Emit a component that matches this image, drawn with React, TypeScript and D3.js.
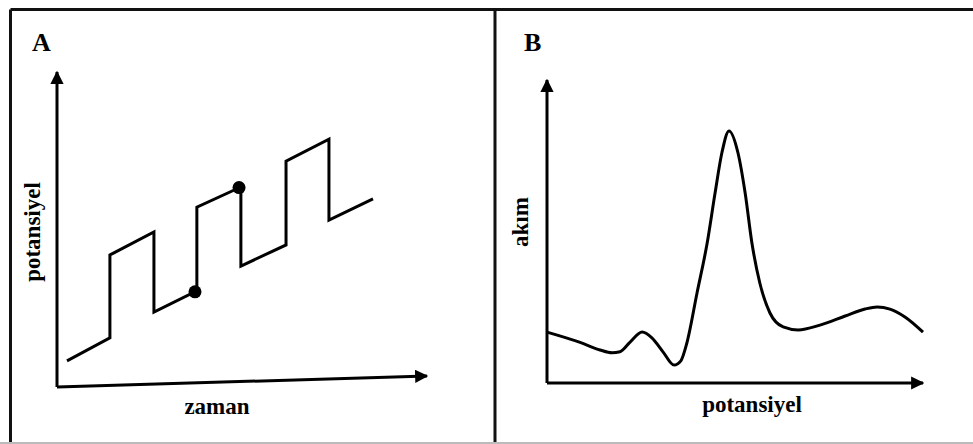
import React from "react";
import * as d3 from "d3";

// Panel A: staircase potential vs time (vertices, arbitrary units 0-100)
const stairTime = [2.7, 14.3, 14.3, 26.2, 26.2, 37.8, 37.8, 49.7, 49.7, 61.9, 61.9, 73.5, 73.5, 85.4];
const stairPotential = [8.3, 15.6, 41.9, 49.2, 23.8, 30.5, 57.1, 63.5, 38.4, 45.1, 71.7, 78.7, 53.0, 59.7];
// sampling points marked with dots
const sampleTime = [37.3, 49.2];
const samplePotential = [30.2, 63.3];

// Panel B: current vs potential (arbitrary units 0-100)
const scanPotential = [0, 8.8, 14.1, 17.3, 19.4, 22.1, 25.3, 27.9, 30.9, 33.8, 35.6, 37.2, 39.9, 42.6, 44.7, 46.5, 48.4, 50.8, 52.7, 54.5, 56.6, 59.3, 62.8, 66.8, 72.6, 79.3, 84.6, 87.8, 91.2, 95.2, 100];
const scanCurrent = [16.8, 13.4, 10.9, 10.0, 10.3, 13.5, 16.8, 14.9, 10.2, 5.9, 7.3, 13.2, 29.7, 46.2, 62.7, 75.9, 83.2, 75.9, 62.7, 46.2, 33.0, 23.1, 18.5, 17.5, 19.1, 22.1, 24.4, 25.1, 24.4, 21.8, 16.8];

const panelLabels = ["A", "B"];
const xTitles = ["zaman", "potansiyel"];
const yTitles = ["potansiyel", "akım"];

const font = "'Liberation Serif', 'Times New Roman', serif";

export default function App() {
  const width = 973;
  const height = 444;

  // panel A scales
  const xA = d3.scaleLinear().domain([0, 100]).range([57, 427]);
  const yA = d3.scaleLinear().domain([0, 100]).range([387, 72]);
  // panel B scales
  const xB = d3.scaleLinear().domain([0, 100]).range([547, 923]);
  const yB = d3.scaleLinear().domain([0, 100]).range([383, 80]);

  const stairs = d3.line<number>()
    .x((d, i) => xA(stairTime[i]))
    .y((d) => yA(d));

  const scan = d3.line<number>()
    .x((d, i) => xB(scanPotential[i]))
    .y((d) => yB(d))
    .curve(d3.curveMonotoneX);

  const tiltA = 3.5; // x axis of panel A slightly rises to the right

  return (
    <svg width={width} height={height} style={{ position: "absolute", left: 0, top: 0 }}>
      <defs>
        <marker id="arrow" viewBox="0 0 10 10" refX="9" refY="5" markerWidth="4.4" markerHeight="4.4" orient="auto" markerUnits="strokeWidth">
          <path d="M0,0 L10,5 L0,10 z" fill="#000" />
        </marker>
      </defs>
      <rect x={0} y={0} width={width} height={height} fill="#fff" />

      {/* frame */}
      <line x1={10.5} y1={9.5} x2={width} y2={9.5} stroke="#111" strokeWidth={3} />
      <line x1={10.5} y1={9.5} x2={10.5} y2={height} stroke="#111" strokeWidth={3} />
      <line x1={495} y1={9.5} x2={495} y2={height} stroke="#111" strokeWidth={3} />
      <line x1={0} y1={443} x2={width} y2={443} stroke="#bbb" strokeWidth={2} />

      {/* panel A */}
      <text x={32} y={51} fontFamily={font} fontWeight="bold" fontSize={26}>{panelLabels[0]}</text>
      <line x1={xA(0)} y1={yA(0)} x2={xA(0)} y2={yA(100)} stroke="#000" strokeWidth={3} markerEnd="url(#arrow)" />
      <line x1={xA(0)} y1={yA(0)} x2={xA(100)} y2={yA(tiltA)} stroke="#000" strokeWidth={3} markerEnd="url(#arrow)" />
      <path d={stairs(stairPotential) || ""} fill="none" stroke="#000" strokeWidth={3} strokeLinejoin="miter" />
      {sampleTime.map((t, i) => (
        <circle key={i} cx={xA(t)} cy={yA(samplePotential[i])} r={6.5} fill="#000" />
      ))}
      <text x={217} y={414} textAnchor="middle" fontFamily={font} fontWeight="bold" fontSize={23}>{xTitles[0]}</text>
      <text transform="translate(40,232) rotate(-90)" textAnchor="middle" fontFamily={font} fontWeight="bold" fontSize={23}>{yTitles[0]}</text>

      {/* panel B */}
      <text x={524} y={51} fontFamily={font} fontWeight="bold" fontSize={26}>{panelLabels[1]}</text>
      <line x1={xB(0)} y1={yB(0)} x2={xB(0)} y2={yB(100)} stroke="#000" strokeWidth={3} markerEnd="url(#arrow)" />
      <line x1={xB(0)} y1={yB(0)} x2={xB(100)} y2={yB(0)} stroke="#000" strokeWidth={3} markerEnd="url(#arrow)" />
      <path d={scan(scanCurrent) || ""} fill="none" stroke="#000" strokeWidth={3} />
      <text x={752} y={412} textAnchor="middle" fontFamily={font} fontWeight="bold" fontSize={23}>{xTitles[1]}</text>
      <text transform="translate(528,222) rotate(-90)" textAnchor="middle" fontFamily={font} fontWeight="bold" fontSize={23}>{yTitles[1]}</text>
    </svg>
  );
}
